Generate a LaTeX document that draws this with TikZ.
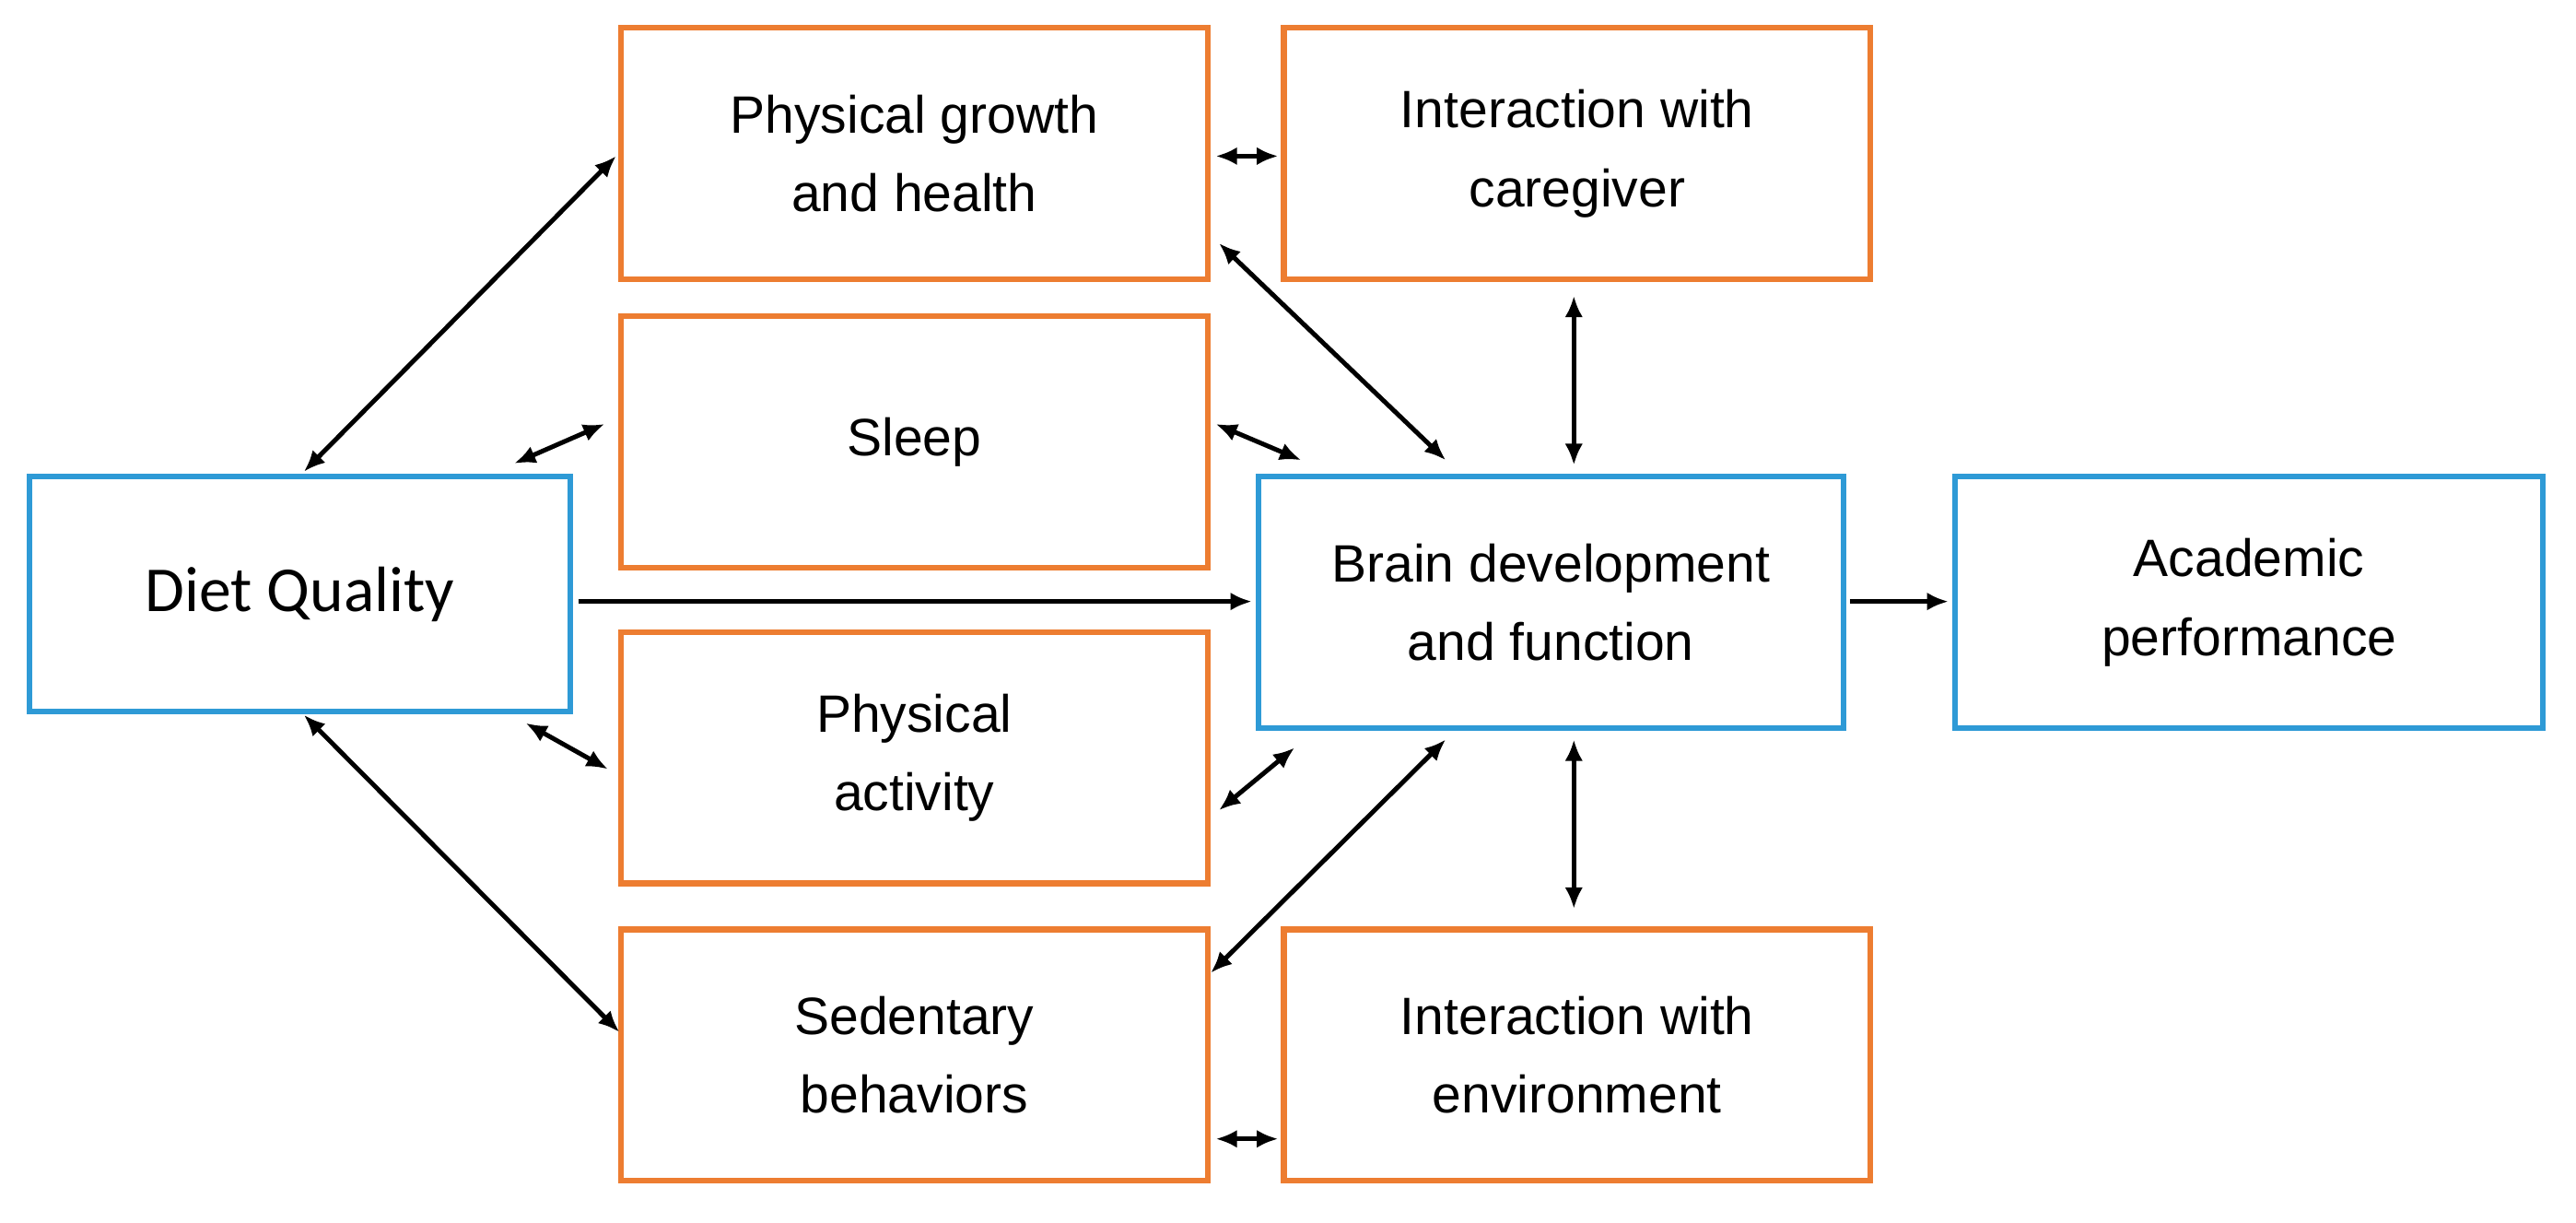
\documentclass[tikz,border=0pt]{standalone}
\usepackage{fontspec}
\setmainfont{Liberation Sans}
\newfontfamily\calib{Carlito}
\usetikzlibrary{arrows.meta}
\begin{document}
\begin{tikzpicture}[x=1pt,y=-1pt,
  box/.style={draw, line width=3.5pt, inner sep=0pt, align=center, font=\fontsize{32}{48}\selectfont},
  org/.style={box, draw={rgb,255:red,237;green,125;blue,49}, minimum width=357pt, minimum height=153pt},
  blu/.style={box, draw={rgb,255:red,46;green,154;blue,214}},
  ar/.style={line width=2.8pt, -{Latex[length=13pt,width=11pt]}},
  dar/.style={line width=2.8pt, {Latex[length=13pt,width=11pt]}-{Latex[length=13pt,width=11pt]}}]
\useasboundingbox (0,0) rectangle (1568,744);
\node[blu, minimum width=329pt, minimum height=143pt, font=\calib\fontsize{39}{46}\selectfont] (dq) at (182.5,361.5) {Diet Quality};
\node[org] (pg) at (556.5,93.5) {Physical growth\\and health};
\node[org] (ic) at (960,93.5) {Interaction with\\caregiver};
\node[org] (sl) at (556.5,269) {Sleep};
\node[blu, minimum width=356pt, minimum height=153pt] (br) at (944,366.5) {Brain development\\and function};
\node[blu, minimum width=358pt, minimum height=153pt] (ac) at (1369,366.5) {Academic\\performance};
\node[org] (pa) at (556.5,461) {Physical\\activity};
\node[org] (sd) at (556.5,642) {Sedentary\\behaviors};
\node[org] (ie) at (960,642) {Interaction with\\environment};
\foreach \n/\x/\y in {a1/185/287,a2/375/95,b1/313/282,b2/368/258,c1/352/366,c2/762/366,
  d1/320/440,d2/370/468,e1/185/435,e2/377/628,f1/740/95,f2/778/95,g1/742/148,g2/880/280,
  h1/740/258,h2/792/280,i1/958/180,i2/958/283,j1/742/493,j2/788/455,k1/737/592,k2/880/450,
  l1/958/450,l2/958/553,m1/740/693,m2/778/693,n1/1126/366,n2/1186/366}
  \coordinate (\n) at (\x,\y);
\draw[dar] (a1) -- (a2);
\draw[dar] (b1) -- (b2);
\draw[ar] (c1) -- (c2);
\draw[dar] (d1) -- (d2);
\draw[dar] (e1) -- (e2);
\draw[dar] (f1) -- (f2);
\draw[dar] (g1) -- (g2);
\draw[dar] (h1) -- (h2);
\draw[dar] (i1) -- (i2);
\draw[dar] (j1) -- (j2);
\draw[dar] (k1) -- (k2);
\draw[dar] (l1) -- (l2);
\draw[dar] (m1) -- (m2);
\draw[ar] (n1) -- (n2);
\end{tikzpicture}
\end{document}
